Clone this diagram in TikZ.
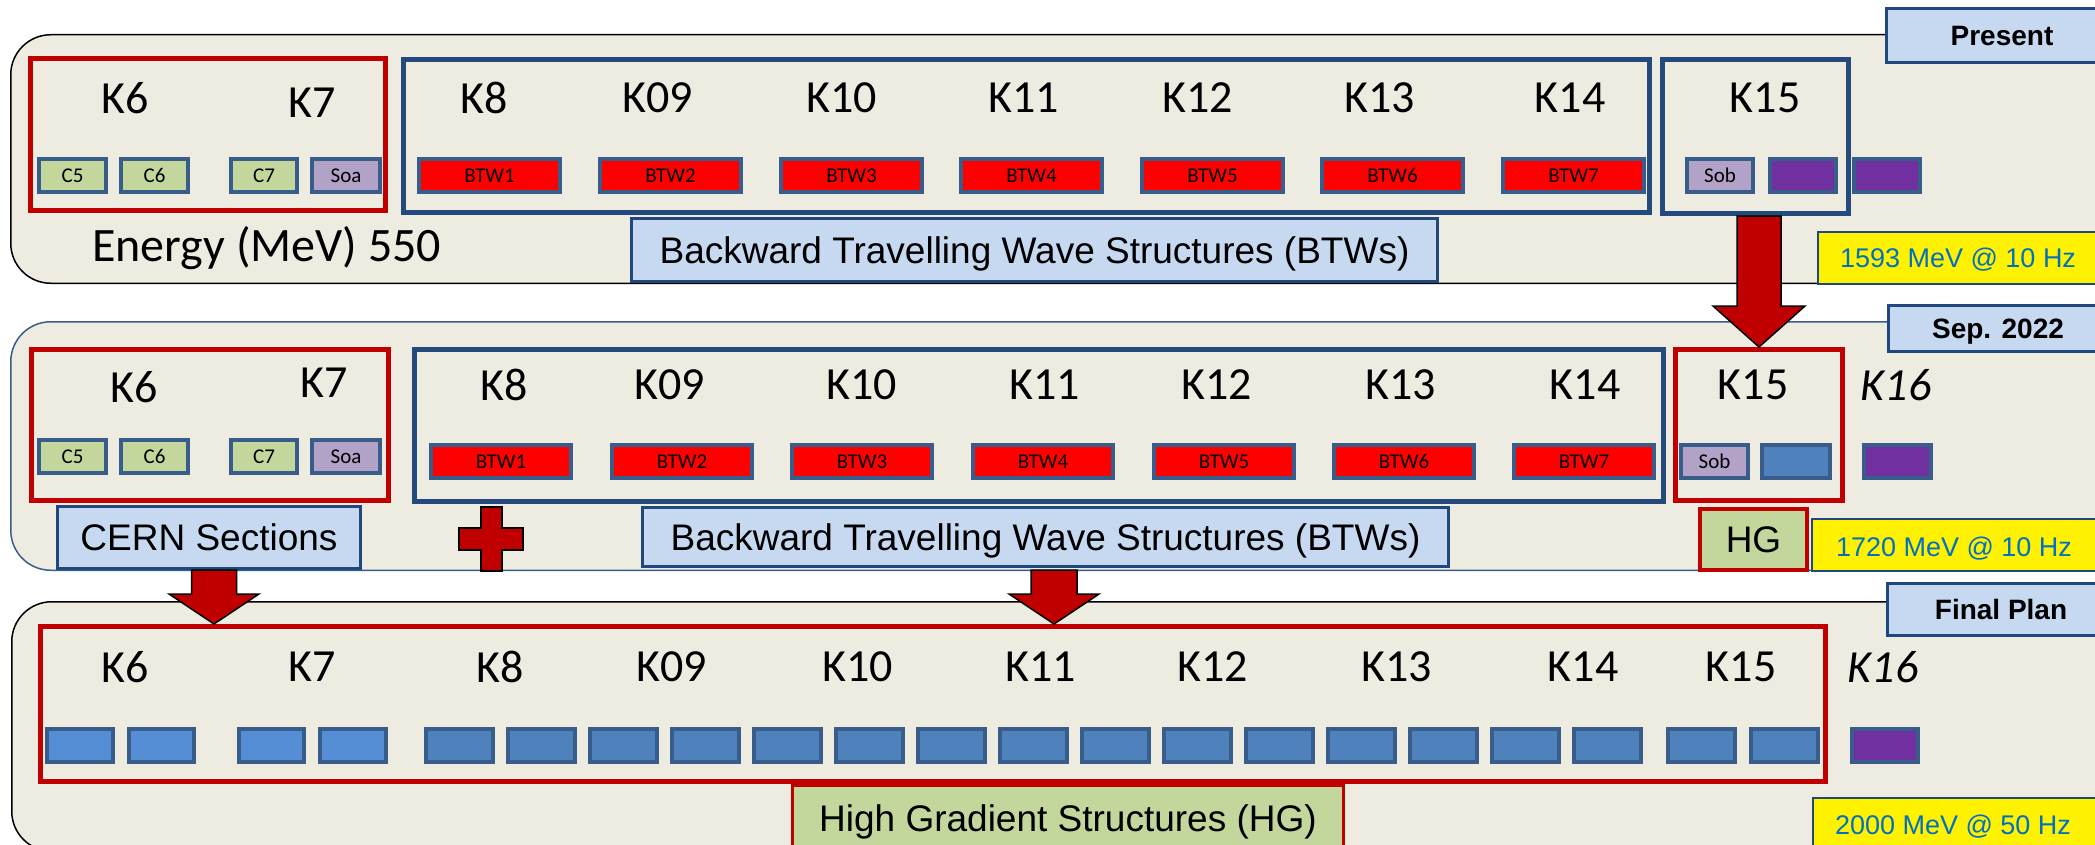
\documentclass[tikz,border=0pt]{standalone}
\usepackage{fontspec}
\setmainfont{Carlito}
\newfontfamily\arialfont{Liberation Sans}
\usetikzlibrary{calc}

\definecolor{panelbg}{HTML}{EEECE1}
\definecolor{cred}{HTML}{C00000}
\definecolor{cblue}{HTML}{24497C}
\definecolor{tileedge}{HTML}{385D8A}
\definecolor{cgreen}{HTML}{C3D69B}
\definecolor{clav}{HTML}{B3A2C7}
\definecolor{cpurple}{HTML}{7030A0}
\definecolor{cblueA}{HTML}{558ED5}
\definecolor{cblueB}{HTML}{4F81BD}
\definecolor{btwred}{HTML}{FF0000}
\definecolor{labelfill}{HTML}{C6D9F1}
\definecolor{labeledge}{HTML}{1F497D}
\definecolor{valblue}{HTML}{0070C0}

% box from outer extents: style, name, left, top, right, bottom, text, line width
\newcommand\tb[8]{\node[#1, minimum width={(#5)-(#3)-(#8)}, minimum height={(#6)-(#4)-(#8)}] (#2) at ({((#3)+(#5))/2},{((#4)+(#6))/2}) {#7};}

\begin{document}
\begin{tikzpicture}[x=1pt,y=-1pt,
  panel/.style={rounded corners=40pt, fill=panelbg, line width=1.5pt, inner sep=0pt},
  grp/.style={draw, line width=5pt, inner sep=0pt},
  sbox/.style={draw=tileedge, line width=4pt, inner sep=0pt, text height=13.5pt, text depth=0pt, font=\fontsize{21}{23}\selectfont},
  lbl/.style={draw=labeledge, fill=labelfill, line width=3pt, inner sep=0pt, text height=26.5pt, text depth=0pt, font=\arialfont\fontsize{37}{40}\selectfont},
  tag/.style={draw=labeledge, fill=labelfill, line width=3pt, inner sep=0pt, text height=20pt, text depth=0pt, font=\arialfont\bfseries\fontsize{28}{30}\selectfont},
  ybox/.style={draw=labeledge, fill=yellow, line width=2pt, inner sep=0pt},
  ytext/.style={text=valblue, inner sep=0pt, text height=19.3pt, text depth=0pt, font=\arialfont\fontsize{27}{30}\selectfont},
  klab/.style={inner sep=0pt, font=\fontsize{46}{50}\selectfont},
  blockarrow/.style={fill=cred, draw=black, line width=1.5pt, line join=miter}]

\useasboundingbox (0,0) rectangle (2095,845);
\clip (0,0) rectangle (2095,845);

% ---------- three stage panels ----------
\tb{panel, draw=black}{p1}{10}{34}{2200}{284}{}{1.5}
\tb{panel, draw=tileedge}{p2}{10}{321}{2200}{571}{}{1.5}
\tb{panel, draw=black}{p3}{11}{601}{2200}{852}{}{1.5}

% ---------- Present ----------
\tb{grp, draw=cred}{g1a}{28}{56}{388}{213}{}{5}
\tb{grp, draw=cblue}{g1b}{401}{57}{1652}{215}{}{5}
\tb{grp, draw=cblue}{g1c}{1660}{57}{1851}{216}{}{5}

\node[klab] (k1a) at (125,98) {K6};
\node[klab] (k1b) at (312,103) {K7};
\foreach \n/\x [count=\i] in {K8/484,K09/658,K10/842,K11/1024,K12/1198,K13/1380,K14/1570,K15/1765}
  \node[klab] (k1s\i) at (\x,98) {\n};

\tb{sbox, fill=cgreen}{t1c5}{37}{157}{108}{194}{C5}{4}
\tb{sbox, fill=cgreen}{t1c6}{119}{157}{190}{194}{C6}{4}
\tb{sbox, fill=cgreen}{t1c7}{229}{157}{299}{194}{C7}{4}
\tb{sbox, fill=clav}{t1soa}{310}{157}{382}{194}{Soa}{4}
\foreach \l [count=\i] in {417,598,779,959,1140,1320,1501}
  {\tb{sbox, fill=btwred}{t1b\i}{\l}{157}{\l+145}{194}{BTW\i}{4}}
\tb{sbox, fill=clav}{t1sob}{1685}{157}{1755}{194}{Sob}{4}
\tb{sbox, fill=cpurple}{t1p1}{1768}{157}{1838}{194}{}{4}
\tb{sbox, fill=cpurple}{t1p2}{1852}{157}{1922}{194}{}{4}

\node[klab, font=\fontsize{48}{52}\selectfont, anchor=base west] (en) at (92,261) {Energy (MeV) 550};
\tb{lbl}{lb1}{630}{217}{1439}{283}{Backward Travelling Wave Structures (BTWs)}{3}

\tb{ybox}{yb1}{1817}{231}{2200}{285}{}{2}
\node[ytext] (yt1) at (1958,258) {1593 MeV @ 10 Hz};
\tb{tag}{tg1}{1885}{7}{2119}{64}{Present}{3}

% ---------- Sep. 2022 ----------
\tb{grp, draw=cred}{g2a}{29}{347}{391}{503}{}{5}
\tb{grp, draw=cblue}{g2b}{412}{347}{1666}{504}{}{5}
\tb{grp, draw=cred}{g2c}{1673}{347}{1845}{503}{}{5}

\node[klab] (k2a) at (134,387) {K6};
\node[klab] (k2b) at (324,383) {K7};
\foreach \n/\x [count=\i] in {K8/504,K09/670,K10/862,K11/1045,K12/1217,K13/1401,K14/1585,K15/1753}
  \node[klab] (k2s\i) at (\x,385) {\n};
\node[klab, font=\fontsize{46}{50}\selectfont\itshape] (k2x) at (1896,385) {K16};

\tb{sbox, fill=cgreen}{t2c5}{37}{438}{108}{475}{C5}{4}
\tb{sbox, fill=cgreen}{t2c6}{119}{438}{190}{475}{C6}{4}
\tb{sbox, fill=cgreen}{t2c7}{229}{438}{299}{475}{C7}{4}
\tb{sbox, fill=clav}{t2soa}{310}{438}{382}{475}{Soa}{4}
\foreach \l [count=\i] in {429,610,790,971,1152,1332,1512}
  {\tb{sbox, fill=btwred}{t2b\i}{\l}{443}{\l+144}{480}{BTW\i}{4}}
\tb{sbox, fill=clav}{t2sob}{1679}{443}{1750}{480}{Sob}{4}
\tb{sbox, fill=cblueB}{t2hg}{1760}{443}{1832}{480}{}{4}
\tb{sbox, fill=cpurple}{t2p}{1862}{443}{1933}{480}{}{4}

\tb{lbl}{cern}{56}{505}{362}{570}{CERN Sections}{3}
\tb{lbl}{lb2}{641}{506}{1450}{568}{Backward Travelling Wave Structures (BTWs)}{3}
\tb{lbl, fill=cgreen, draw=cred, line width=4pt}{hg2}{1698}{507}{1809}{572}{HG}{4}

\tb{ybox}{yb2}{1811}{518}{2200}{572}{}{2}
\node[ytext] (yt2) at (1954,547) {1720 MeV @ 10 Hz};
\tb{tag}{tg2}{1887}{304}{2109}{353}{Sep. 2022}{3}

% plus sign between the CERN and BTW labels
\coordinate (plus) at (491.5,539);
\draw[blockarrow, shift={(plus)}]
  (-10.5,-32) -- (10.5,-32) -- (10.5,-11) -- (31.5,-11) -- (31.5,11) -- (10.5,11)
  -- (10.5,32) -- (-10.5,32) -- (-10.5,11) -- (-32.5,11) -- (-32.5,-11) -- (-10.5,-11) -- cycle;

% ---------- Final Plan ----------
\tb{grp, draw=cred}{g3}{38}{624}{1828}{784}{}{5}

\foreach \n/\x [count=\i] in {K6/125,K7/312,K8/500,K09/672,K10/858,K11/1041,K12/1213,K13/1397,K14/1583,K15/1741}
  \node[klab] (k3s\i) at (\x,667) {\n};
\node[klab, font=\fontsize{46}{50}\selectfont\itshape] (k3x) at (1883,667) {K16};

\tb{sbox, fill=cblueA}{t3a1}{45}{727}{115}{764}{}{4}
\tb{sbox, fill=cblueA}{t3a2}{127}{727}{196}{764}{}{4}
\tb{sbox, fill=cblueA}{t3a3}{237}{727}{306}{764}{}{4}
\tb{sbox, fill=cblueA}{t3a4}{318}{727}{388}{764}{}{4}
\foreach \i in {0,...,14}
  {\tb{sbox, fill=cblueB}{t3h\i}{424+82*\i}{727}{495+82*\i}{764}{}{4}}
\tb{sbox, fill=cblueB}{t3k1}{1666}{727}{1737}{764}{}{4}
\tb{sbox, fill=cblueB}{t3k2}{1749}{727}{1820}{764}{}{4}
\tb{sbox, fill=cpurple}{t3p}{1850}{727}{1920}{764}{}{4}

\tb{lbl, fill=cgreen, draw=cred}{hg3}{791}{784}{1345}{852}{High Gradient Structures (HG)}{3}

\tb{ybox}{yb3}{1812}{797}{2200}{880}{}{2}
\node[ytext] (yt3) at (1953,825) {2000 MeV @ 50 Hz};
\tb{tag}{tg3}{1886}{582}{2116}{637}{Final Plan}{3}

% ---------- block arrows between stages ----------
\path (g2c.north |- g1c.south) coordinate (a1s) (g2c.north) coordinate (a1e);
\draw[blockarrow] ($(a1s)+(-22,0)$) -- ($(a1s)+(22,0)$) -- ($(a1e)+(22,-41)$) -- ($(a1e)+(46,-41)$)
  -- (a1e) -- ($(a1e)+(-46,-41)$) -- ($(a1e)+(-22,-41)$) -- cycle;

\coordinate (a2s) at (214,570);
\coordinate (a2e) at (a2s |- g3.north);
\draw[blockarrow] ($(a2s)+(-22.5,0)$) -- ($(a2s)+(22.5,0)$) -- ($(a2e)+(22.5,-30)$) -- ($(a2e)+(45,-30)$)
  -- (a2e) -- ($(a2e)+(-45,-30)$) -- ($(a2e)+(-22.5,-30)$) -- cycle;

\coordinate (a3s) at (1054,570);
\coordinate (a3e) at (a3s |- g3.north);
\draw[blockarrow] ($(a3s)+(-23,0)$) -- ($(a3s)+(23,0)$) -- ($(a3e)+(23,-30)$) -- ($(a3e)+(45,-30)$)
  -- (a3e) -- ($(a3e)+(-45,-30)$) -- ($(a3e)+(-23,-30)$) -- cycle;
\end{tikzpicture}
\end{document}
